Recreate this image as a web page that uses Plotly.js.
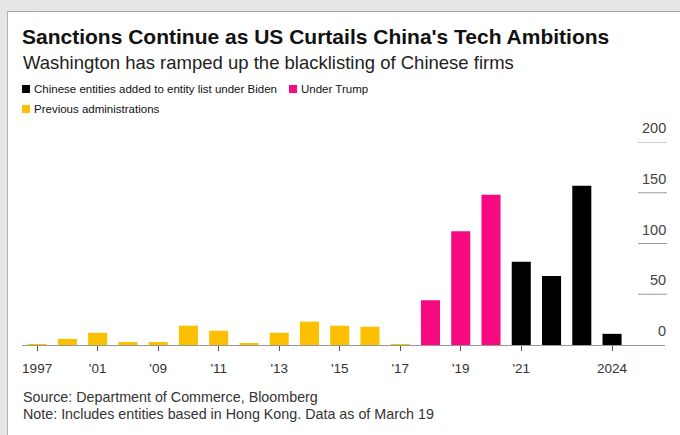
<!DOCTYPE html>
<html>
<head>
<meta charset="utf-8">
<script src="https://cdn.plot.ly/plotly-3.0.1.min.js"></script>
<style>
  html, body { margin: 0; padding: 0; background: #e6e6e6; width: 680px; height: 435px; overflow: hidden; }
  #card { position: absolute; left: 7px; top: 11px; width: 673px; height: 424px; background: #fff;
          border-left: 1px solid #b4b4b4; border-top: 1px solid #a8a8a8; }
  #chart { position: absolute; left: 0; top: 0; width: 672px; height: 423px; }
</style>
</head>
<body>
<div id="card"><div id="chart"></div></div>
<script>
// ---- data ----
const allYears = ['1997','1999','2001','2008','2009','2010','2011','2012','2013','2014','2015','2016','2017','2018','2019','2020','2021','2022','2023','2024'];
const prevYears = ['1997','1999','2001','2008','2009','2010','2011','2012','2013','2014','2015','2016','2017'];
const prevValues = [1, 6, 12, 3, 3, 19, 14, 2, 12, 23, 19, 18, 1];
const trumpYears = ['2018','2019','2020'];
const trumpValues = [44, 112, 148];
const bidenYears = ['2021','2022','2023','2024'];
const bidenValues = [82, 68, 157, 11];
const xTickVals = ['1997','2001','2009','2011','2013','2015','2017','2019','2021','2024'];
const xTickText = ['1997',"'01","'09","'11","'13","'15","'17","'19","'21",'2024'];
const yTicks = [0, 50, 100, 150, 200];

const COL_PREV = '#fcc000';
const COL_TRUMP = '#f70a80';
const COL_BIDEN = '#000000';

// geometry (pixels inside chart div)
const W = 672, H = 423;
const M = {l: 14, r: 15, t: 130, b: 90};
const PW = W - M.l - M.r, PH = H - M.t - M.b;
const px = v => (v - (M.l + 8)) / PW;      // page x -> paper x
const py = v => ((H - M.b + 12) - v) / PH;  // page y -> paper y

const FONT = '"Liberation Sans", Arial, sans-serif';

const traces = [
  {type: 'bar', name: 'Previous administrations', x: prevYears, y: prevValues, marker: {color: COL_PREV}, showlegend: false},
  {type: 'bar', name: 'Under Trump', x: trumpYears, y: trumpValues, marker: {color: COL_TRUMP}, showlegend: false},
  {type: 'bar', name: 'Chinese entities added to entity list under Biden', x: bidenYears, y: bidenValues, marker: {color: COL_BIDEN}, showlegend: false}
];

const annotations = [
  {xref: 'paper', yref: 'paper', x: px(21), y: py(63), xanchor: 'left', yanchor: 'middle', showarrow: false,
   text: 'Washington has ramped up the blacklisting of Chinese firms', font: {family: FONT, size: 18.5, color: '#222'}},
  {xref: 'paper', yref: 'paper', x: px(32), y: py(89), xanchor: 'left', yanchor: 'middle', showarrow: false,
   text: traces[2].name, font: {family: FONT, size: 11.5, color: '#111'}},
  {xref: 'paper', yref: 'paper', x: px(299), y: py(89), xanchor: 'left', yanchor: 'middle', showarrow: false,
   text: traces[1].name, font: {family: FONT, size: 11.5, color: '#111'}},
  {xref: 'paper', yref: 'paper', x: px(32), y: py(109), xanchor: 'left', yanchor: 'middle', showarrow: false,
   text: traces[0].name, font: {family: FONT, size: 11.5, color: '#111'}},
  {xref: 'paper', yref: 'paper', x: px(21), y: py(397), xanchor: 'left', yanchor: 'middle', showarrow: false,
   text: 'Source: Department of Commerce, Bloomberg', font: {family: FONT, size: 14.3, color: '#333'}},
  {xref: 'paper', yref: 'paper', x: px(21), y: py(414), xanchor: 'left', yanchor: 'middle', showarrow: false,
   text: 'Note: Includes entities based in Hong Kong. Data as of March 19', font: {family: FONT, size: 14.3, color: '#333'}}
];
yTicks.forEach(t => annotations.push({
  xref: 'paper', yref: 'y', x: px(668), y: t, xanchor: 'right', yanchor: 'bottom', yshift: 4, showarrow: false,
  text: String(t), font: {family: FONT, size: 14.5, color: '#444'}
}));

const shapes = [];
function sq(x, y, c) {
  shapes.push({type: 'rect', xref: 'paper', yref: 'paper', x0: px(x), x1: px(x + 8), y0: py(y + 4), y1: py(y - 4),
               fillcolor: c, line: {width: 0}});
}
sq(22, 89, COL_BIDEN);
sq(289, 89, COL_TRUMP);
sq(22, 109, COL_PREV);
yTicks.filter(t => t > 0).forEach(t => shapes.push({
  type: 'line', xref: 'paper', yref: 'y', x0: px(638), x1: px(667), y0: t, y1: t, line: {color: '#999', width: 1}
}));

const layout = {
  width: W, height: H,
  margin: M,
  paper_bgcolor: 'rgba(0,0,0,0)', plot_bgcolor: 'rgba(0,0,0,0)',
  barmode: 'relative', bargap: 0.37,
  title: {text: "<b>Sanctions Continue as US Curtails China's Tech Ambitions</b>", xref: 'container', yref: 'container',
          x: 14 / W, xanchor: 'left', y: 1 - 25 / H, yanchor: 'middle',
          font: {family: FONT, size: 21, color: '#111'}},
  xaxis: {type: 'category', categoryorder: 'array', categoryarray: allYears, range: [-0.5, 20.75],
          tickmode: 'array', tickvals: xTickVals, ticktext: xTickText,
          ticks: 'outside', ticklen: 5, tickcolor: '#555', tickwidth: 1, ticklabelstandoff: 6,
          showline: true, linecolor: '#999', linewidth: 1, showgrid: false, zeroline: false,
          tickfont: {family: FONT, size: 13.5, color: '#333'}, fixedrange: true},
  yaxis: {range: [0, 200], showgrid: false, zeroline: false, showticklabels: false, showline: false, fixedrange: true},
  annotations: annotations,
  shapes: shapes,
  showlegend: false
};

Plotly.newPlot('chart', traces, layout, {displayModeBar: false, staticPlot: true});
</script>
</body>
</html>
